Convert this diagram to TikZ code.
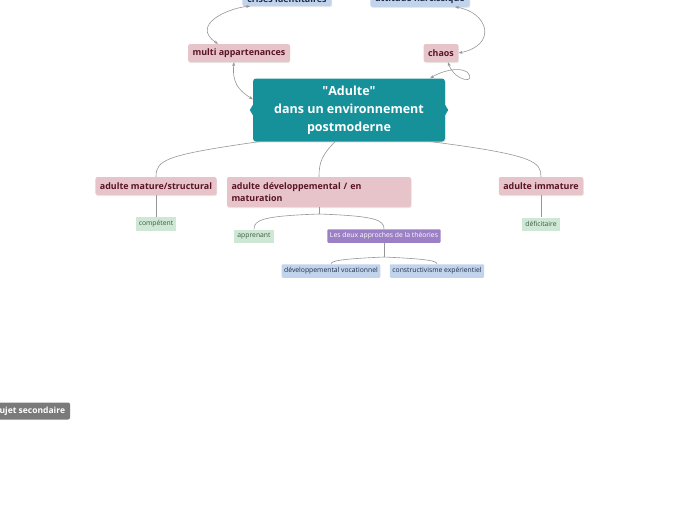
\documentclass[tikz,border=0pt]{standalone}
\usepackage{fontspec}
\setmainfont{Open Sans}
\usetikzlibrary{positioning,arrows.meta,shadows}
\definecolor{rootteal}{RGB}{22,145,154}
\definecolor{pinkfill}{RGB}{230,196,202}
\definecolor{pinktext}{RGB}{88,20,36}
\definecolor{bluefill}{RGB}{194,211,236}
\definecolor{bluetext}{RGB}{30,44,74}
\definecolor{greenfill}{RGB}{207,232,213}
\definecolor{greentext}{RGB}{60,88,66}
\definecolor{purplefill}{RGB}{156,128,198}
\definecolor{greyfill}{RGB}{122,122,122}
\definecolor{linegrey}{RGB}{150,150,150}

\begin{document}
\begin{tikzpicture}[
  x=1pt, y=-1pt,
  font=\fontsize{8}{10}\selectfont,
  shade/.style={drop shadow={opacity=0.18, shadow xshift=0.6pt, shadow yshift=-1pt}},
  topic/.style={fill=rootteal, text=white, rounded corners=3pt, font=\fontsize{12.5}{18}\selectfont\bfseries, align=center, minimum width=192pt, minimum height=63pt, shade},
  mainbox/.style={fill=pinkfill, text=pinktext, rounded corners=2pt, font=\fontsize{8.9}{11.5}\selectfont\bfseries, minimum height=18pt, inner xsep=4.5pt, shade},
  farbox/.style={fill=bluefill, text=bluetext, rounded corners=2pt, font=\fontsize{8.9}{11.5}\selectfont\bfseries, minimum height=14pt, inner xsep=5pt, shade},
  leaf/.style={fill=greenfill, text=greentext, font=\fontsize{6.8}{8}\selectfont, minimum height=13pt, inner xsep=3pt},
  subleaf/.style={fill=bluefill, text=bluetext, font=\fontsize{6.8}{8}\selectfont, minimum height=13pt, inner xsep=2.5pt, rounded corners=1pt},
  theory/.style={fill=purplefill, text=white, font=\fontsize{6.8}{8}\selectfont, minimum height=13pt, inner xsep=2.5pt, rounded corners=1pt},
  note/.style={fill=greyfill, text=white, rounded corners=2pt, font=\fontsize{8.5}{10}\selectfont\bfseries, minimum height=17pt, inner xsep=5pt},
  branch/.style={draw=linegrey, line width=0.6pt},
  link/.style={draw=linegrey, line width=0.6pt, {Stealth[length=4pt,width=3pt]}-{Stealth[length=4pt,width=3pt]}}
]
\useasboundingbox (0,0) rectangle (697,520);
\node[topic] (adulte) at (349,110) {\textquotedbl Adulte\textquotedbl\\dans un environnement\\postmoderne};
\fill[rootteal] ([yshift=5pt]adulte.west) -- ++(-3pt,-5pt) -- ++(3pt,-5pt) -- cycle;
\fill[rootteal] ([yshift=5pt]adulte.east) -- ++(3pt,-5pt) -- ++(-3pt,-5pt) -- cycle;

\node[mainbox] (multi) at (239,53) {multi appartenances};
\node[mainbox] (chaos) at (441,53) {chaos};
\node[farbox] (crises) at (287,-1) {crises identitaires};
\node[farbox] (narciss) at (420,-1) {attitude narcissique};

\node[mainbox] (mature) at (156,186) {adulte mature/structural};
\node[mainbox, text width=175pt, align=left, minimum height=30pt] (devel) at (319,192) {adulte développemental / en\\maturation};
\node[mainbox] (immature) at (541,186) {adulte immature};

\node[leaf] (competent) at (156,224) {compétent};
\node[leaf] (apprenant) at (254,236) {apprenant};
\node[theory] (approches) at (384,236) {Les deux approches de la théories};
\node[leaf] (deficit) at (541,224) {déficitaire};
\node[subleaf] (vocation) at (331,271) {développemental vocationnel};
\node[subleaf] (construct) at (437,271) {constructivisme expérientiel};

\node[note] (sujet) at (30,411) {Sujet secondaire};

\draw[branch] (adulte.south west) ++(6pt,0) .. controls (165,155) and (156,160) .. (mature.north);
\draw[branch] (adulte.south) ++(-14pt,0) .. controls (322,155) and (319,162) .. (devel.north);
\draw[branch] (adulte.south east) ++(-14pt,0) .. controls (535,155) and (541,162) .. (immature.north);
\draw[branch] (mature.south) -- (competent.north);
\draw[branch] (immature.south) -- (deficit.north);
\draw[branch] (devel.south) -- (319,214) coordinate (fork1);
\draw[branch] (fork1) .. controls (262,216) and (254,220) .. (apprenant.north);
\draw[branch] (fork1) .. controls (376,216) and (384,220) .. (approches.north);
\draw[branch] (approches.south) -- (384,257) coordinate (fork2);
\draw[branch] (fork2) .. controls (339,259) and (331,261) .. (vocation.north);
\draw[branch] (fork2) .. controls (429,259) and (437,261) .. (construct.north);

\draw[link] (multi.north west) ++(30pt,0) .. controls (190,25) and (228,8) .. ([xshift=8pt]crises.south west);
\draw[link] (chaos.east) .. controls (498,45) and (488,12) .. ([xshift=-15pt]narciss.south east);
\draw[link] ([xshift=-5pt]multi.south) .. controls (232,82) and (238,90) .. ([yshift=-21pt]adulte.north west);
\draw[link] ([xshift=7pt]chaos.south) .. controls (455,82) and (478,84) .. (467,72) .. controls (458,66) and (440,72) .. ([xshift=-15pt]adulte.north east);
\end{tikzpicture}
\end{document}
